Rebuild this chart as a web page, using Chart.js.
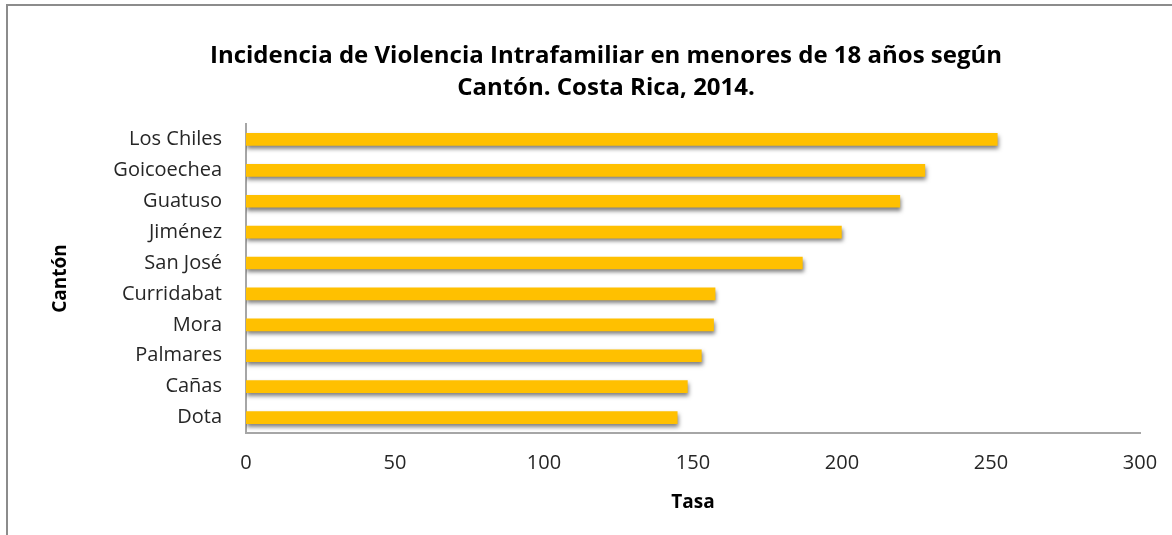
<!DOCTYPE html>
<html>
<head>
<meta charset="utf-8">
<script src="https://cdn.jsdelivr.net/npm/chart.js@4.4.1/dist/chart.umd.min.js"></script>
<style>
  html, body { margin: 0; padding: 0; background: #fff; }
  #marco { position: absolute; left: 6px; top: 4px; width: 1166px; height: 531px;
           border-left: 2px solid #8c8c8c; border-top: 2px solid #8c8c8c; }
  #grafico { position: absolute; left: 0; top: 0; }
</style>
</head>
<body>
<div id="marco"></div>
<canvas id="grafico" width="1172" height="535"></canvas>
<script>
// datos
const cantones = ["Los Chiles", "Goicoechea", "Guatuso", "Jiménez", "San José",
  "Curridabat", "Mora", "Palmares", "Cañas", "Dota"];
const tasas = [252.1, 227.8, 219.4, 199.8, 186.7, 157.4, 156.9, 152.8, 148.1, 144.7];
const ticksX = [0, 50, 100, 150, 200, 250, 300];

const titulo = ["Incidencia de Violencia Intrafamiliar en menores de 18 años según",
  "Cantón. Costa Rica, 2014."];

const fuente = "'Open Sans', 'Noto Sans', sans-serif";

// sombra debajo de las barras
const sombra = {
  id: "sombra",
  beforeDatasetsDraw(chart) {
    const c = chart.ctx;
    c.save();
    c.shadowColor = "rgba(0,0,0,0.5)";
    c.shadowBlur = 4;
    c.shadowOffsetX = 1;
    c.shadowOffsetY = 3;
  },
  afterDatasetsDraw(chart) {
    chart.ctx.restore();
  }
};

const ctx = document.querySelector("#grafico");
const grafica = new Chart(ctx, {
  type: "bar",
  data: {
    labels: cantones,
    datasets: [{
      data: tasas,
      backgroundColor: "#FFC000",
      borderWidth: 0,
      barThickness: 12
    }]
  },
  options: {
    indexAxis: "y",
    responsive: false,
    animation: false,
    layout: { padding: { left: 72, right: 32, top: 0, bottom: 0 } },
    plugins: {
      legend: { display: false },
      tooltip: { enabled: false },
      title: {
        display: true,
        text: titulo,
        color: "#000",
        font: { family: fuente, size: 24, weight: "bold", lineHeight: 1.333 },
        padding: { top: 40, bottom: 20 }
      }
    },
    scales: {
      x: {
        min: 0,
        max: 300,
        afterBuildTicks: (s) => { s.ticks = ticksX.map((v) => ({ value: v })); },
        afterFit: (s) => { s.height = 102; },
        grid: { display: false },
        border: { display: true, color: "#a6a6a6", width: 2 },
        ticks: { color: "#262626", padding: 10, font: { family: fuente, size: 20 } },
        title: {
          display: true,
          text: "Tasa",
          color: "#000",
          font: { family: fuente, size: 19, weight: "bold" },
          padding: { top: 0, bottom: 21 }
        }
      },
      y: {
        afterFit: (s) => { s.width = 174; },
        grid: { display: false },
        border: { display: true, color: "#a6a6a6", width: 2 },
        ticks: { color: "#262626", padding: 16, font: { family: fuente, size: 20 } },
        title: {
          display: true,
          text: "Cantón",
          color: "#000",
          font: { family: fuente, size: 19, weight: "bold" },
          padding: { top: -23, bottom: 0 }
        }
      }
    }
  },
  plugins: [sombra]
});
</script>
</body>
</html>
